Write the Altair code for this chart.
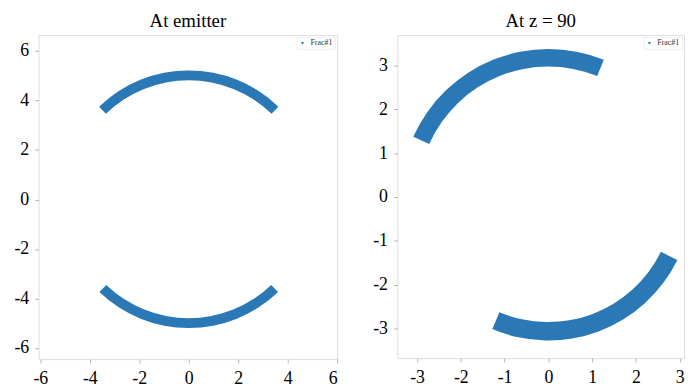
import math
import altair as alt
import pandas as pd

# ---- data ----
series_name = ["Frac#1", "Frac#1"]
centre_x = [0, 0]
centre_y = [0, 0]
# arc extents, degrees clockwise from 12 o'clock (Vega convention)
emit_theta_start = [316, 136]
emit_theta_end = [404, 224]
emit_r_inner = [4.82, 4.80]
emit_r_outer = [5.22, 5.20]
z90_theta_start = [294, 116]
z90_theta_end = [382, 203]
z90_r_inner = [2.98, 2.86]
z90_r_outer = [3.38, 3.28]

emit_xticks = [-6, -4, -2, 0, 2, 4, 6]
emit_yticks = [-6, -4, -2, 0, 2, 4, 6]
z90_xticks = [-3, -2, -1, 0, 1, 2, 3]
z90_yticks = [-3, -2, -1, 0, 1, 2, 3]

BLUE = "#2a78b6"
FONT = "'Liberation Serif', 'Times New Roman', serif"


def frame(t0, t1, r0, r1):
    return pd.DataFrame({
        "series": series_name, "cx": centre_x, "cy": centre_y,
        "t0": t0, "t1": t1, "r0": r0, "r1": r1,
    })


def panel(df, xdom, ydom, w, h, xticks, yticks, title):
    ppu = w / (xdom[1] - xdom[0])
    rmax = 10
    axis_common = dict(
        grid=False, domain=False, tickColor="#b5b5b5", tickSize=4,
        labelFont=FONT, labelFontSize=18, labelColor="#000",
        labelExpr="'' + datum.value",
    )
    return alt.Chart(df, title=alt.TitleParams(
        title, font=FONT, fontSize=19, fontWeight="normal", color="#000", offset=4
    )).mark_arc().encode(
        x=alt.X("cx:Q", scale=alt.Scale(domain=xdom, nice=False, zero=False),
                axis=alt.Axis(values=xticks, title=None, labelPadding=7, **axis_common)),
        y=alt.Y("cy:Q", scale=alt.Scale(domain=ydom, nice=False, zero=False),
                axis=alt.Axis(values=yticks, title=None, labelPadding=6, **axis_common)),
        theta=alt.Theta("t0:Q", stack=False,
                        scale=alt.Scale(domain=[0, 360], range=[0, 2 * math.pi])),
        theta2="t1:Q",
        radius=alt.Radius("r1:Q", scale=alt.Scale(type="linear", domain=[0, rmax],
                                                  range=[0, rmax * ppu])),
        radius2="r0:Q",
        color=alt.Color("series:N", scale=alt.Scale(range=[BLUE]),
                        legend=alt.Legend(title=None, orient="top-right", offset=2,
                                          symbolType="circle", symbolSize=6,
                                          labelFont=FONT, labelFontSize=8,
                                          labelColor="#333", padding=2,
                                          fillColor="white", strokeColor="#eeeeee",
                                          symbolStrokeWidth=0)),
    ).properties(width=w, height=h)


left = panel(frame(emit_theta_start, emit_theta_end, emit_r_inner, emit_r_outer),
             [-6.07, 6.0], [-6.45, 6.65], 302, 328, emit_xticks, emit_yticks,
             "At emitter")
right = panel(frame(z90_theta_start, z90_theta_end, z90_r_inner, z90_r_outer),
              [-3.45, 3.1], [-3.68, 3.7], 290, 327, z90_xticks, z90_yticks,
              "At z = 90")

chart = alt.hconcat(left, right, spacing=34).resolve_scale(
    color="independent", x="independent", y="independent"
).properties(
    padding={"left": 5, "top": 1, "right": 0, "bottom": 0}
).configure_view(stroke="#a8a8a8", strokeWidth=1.2).configure_axis(
    labelFont=FONT
).configure_title(font=FONT).configure(background="white", font=FONT)

chart.save("out.html", embed_options={"renderer": "svg", "actions": False})
